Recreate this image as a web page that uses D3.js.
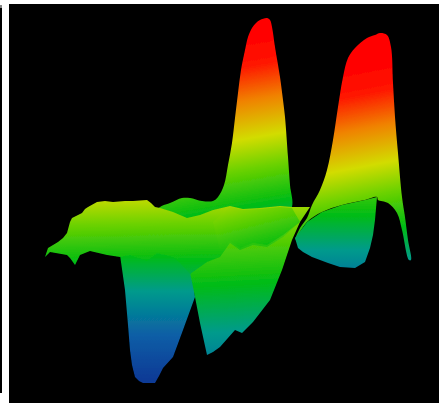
<!DOCTYPE html>
<html>
<head>
<meta charset="utf-8">
<script src="https://cdn.jsdelivr.net/npm/d3@7/dist/d3.min.js"></script>
<style>
html, body { margin: 0; padding: 0; background: #fff; overflow: hidden; }
svg { display: block; }
</style>
</head>
<body>
<div id="chart"></div>
<script>
// outlines: position along the surface, height above the floor
const peak1Pos = [147,151,161,173,181,193,204,209,215,219,223,226,229,232,236,239,243,247,251,258,261,263,266,271,274,276,279,281,283,271,151];
const peak1Height = [191,196,200,205,205,202,202,206,218,238,260,285,310,333,353,366,375,380,383,385,383,376,356,326,303,286,246,218,196,178,178];

const peak2Pos = [286,291,298,303,311,318,324,329,334,339,346,358,366,371,378,382,384,386,389,393,396,399,402,400,393,388,379,369,368,356,333,313,298];
const peak2Height = [163,175,185,198,213,233,263,296,326,345,355,365,368,370,368,356,320,286,250,206,186,163,143,143,173,190,200,203,206,203,198,191,181];

const rightWallPos = [286,289,294,303,319,331,346,356,361,364,366,368,356,333,313,298];
const rightWallHeight = [165,155,151,146,140,136,135,141,155,168,183,206,203,198,191,181];

const blueWallPos = [109,111,116,119,121,123,126,130,134,146,150,154,164,174,186,181,141];
const blueWallHeight = [153,148,113,78,53,38,26,22,20,20,27,35,46,73,106,150,160];

const midWallPos = [181,186,191,198,204,211,226,233,244,261,273,283,291,241,201];
const midWallHeight = [131,106,80,48,51,56,73,70,81,103,133,163,181,173,153];

const frontPos = [36,39,49,54,58,61,63,73,76,79,88,96,104,116,124,138,142,146,151,164,178,191,204,221,234,251,271,283,301,291,274,258,244,231,221,211,198,181,171,164,148,138,121,111,98,81,71,66,61,58,41];
const frontHeight = [146,155,161,165,170,181,185,190,194,196,201,202,201,202,202,203,200,196,195,191,185,188,193,197,194,195,197,196,196,181,166,156,158,153,160,146,141,129,140,146,150,142,148,146,148,152,148,138,145,148,151];

const ridgePos = [204,221,234,251,271,283,291,274,258,244,231,221,211];
const ridgeHeight = [181,196,193,194,196,195,181,168,158,160,155,162,153];

// height where each surface turns pure green, how much that level leans, how fast colour changes
const surfaceNames = ["peak1", "peak2", "rightWall", "blueWall", "midWall", "front", "ridge"];
const greenHeight = [198, 170, 188, 147, 118, 141, 150];
const greenAtPos = [246, 361, 340, 150, 201, 101, 241];
const greenLean = [-0.17, -0.19, 0, 0, -0.05, -0.02, -0.25];
const colourRate = [0.0034, 0.0034, 0.0034, 0.0034, 0.0025, 0.0034, 0.0034];
const smoothOutline = [true, true, false, false, false, false, false];

const colourStops = [0, 0.15, 0.3, 0.42, 0.55, 0.65, 0.78, 0.9, 1];
const colourValues = ["#0a3a96", "#0a5ea6", "#009a8c", "#00bc14", "#6ed200", "#d2dc00", "#f08200", "#ff1400", "#ff0000"];

const width = 439, height = 405;

const x = d3.scaleLinear().domain([0, 430]).range([9, 439]);
const y = d3.scaleLinear().domain([0, 399]).range([403, 4]);
const colour = d3.scaleLinear().domain(colourStops).range(colourValues);

const svg = d3.select("#chart").append("svg")
    .attr("width", width)
    .attr("height", height);

const defs = svg.append("defs");

defs.append("filter")
    .attr("id", "soft")
    .append("feGaussianBlur")
    .attr("stdDeviation", 0.6);

// dark sliver at the left edge of the picture, then the black plot
svg.append("rect").attr("x", 0).attr("y", 6).attr("width", 2).attr("height", 387).attr("fill", "#000");
svg.append("rect").attr("x", 0).attr("y", 5).attr("width", 2).attr("height", 3).attr("fill", "#888");
svg.append("rect")
    .attr("x", x(0)).attr("y", y(399))
    .attr("width", x(430) - x(0)).attr("height", y(0) - y(399))
    .attr("fill", "#000");

function addGradient(name, i) {
    const px = x(greenAtPos[i]), py = y(greenHeight[i]);
    const s = greenLean[i];
    const norm = Math.sqrt(1 + s * s);
    const tAt = v => (v - 0.42) / (colourRate[i] * norm);
    const grad = defs.append("linearGradient")
        .attr("id", "grad-" + name)
        .attr("gradientUnits", "userSpaceOnUse")
        .attr("x1", px + s / norm * tAt(0)).attr("y1", py - tAt(0) / norm)
        .attr("x2", px + s / norm * tAt(1)).attr("y2", py - tAt(1) / norm);
    grad.selectAll("stop")
        .data(colourStops)
        .join("stop")
        .attr("offset", d => d)
        .attr("stop-color", d => colour(d));
}

surfaceNames.forEach(addGradient);

const smoothLine = d3.line()
    .x(d => x(d[0]))
    .y(d => y(d[1]))
    .curve(d3.curveCatmullRomClosed.alpha(0.5));

const plainLine = d3.line()
    .x(d => x(d[0]))
    .y(d => y(d[1]))
    .curve(d3.curveLinearClosed);

const surfaces = [
    [peak1Pos, peak1Height],
    [peak2Pos, peak2Height],
    [rightWallPos, rightWallHeight],
    [blueWallPos, blueWallHeight],
    [midWallPos, midWallHeight],
    [frontPos, frontHeight],
    [ridgePos, ridgeHeight]
];

svg.append("g")
    .attr("filter", "url(#soft)")
    .selectAll("path")
    .data(surfaces)
    .join("path")
    .attr("d", (d, i) => (smoothOutline[i] ? smoothLine : plainLine)(d3.zip(d[0], d[1])))
    .attr("fill", (d, i) => `url(#grad-${surfaceNames[i]})`);
</script>
</body>
</html>
